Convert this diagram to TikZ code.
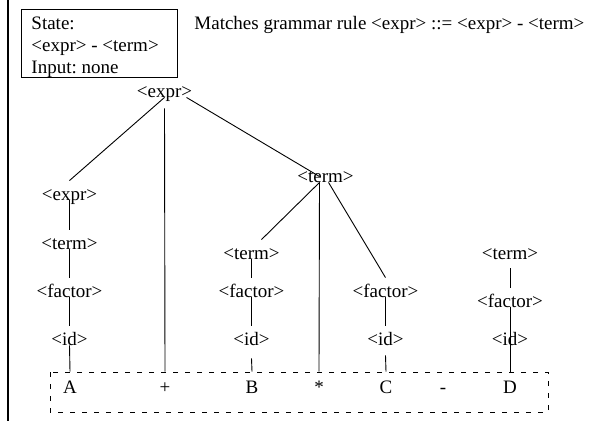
\documentclass[tikz,border=0pt]{standalone}
\usepackage{fontspec}
\setmainfont{Liberation Serif}
\frenchspacing

\begin{document}
\begin{tikzpicture}[x=1pt,y=-1pt,line width=0.9pt,
    font=\fontsize{19}{22}\selectfont,
    sym/.style={inner sep=0pt,text height=19pt,text depth=0pt,anchor=base},
    tok/.style={inner sep=0pt,text height=21pt,text depth=0pt,anchor=base}]
  \useasboundingbox (0,0) rectangle (597,421);
  % left rule
  \draw[line width=2pt] (8,0) -- (8,421);
  % state box + matched rule
  \node[draw,anchor=north west,minimum width=156pt,minimum height=68pt] (state) at (21,9) {};
  \node[anchor=north west,align=left,inner sep=0pt] (statetext) at (31,16.5)
        {State:\\<expr> - <term>\\Input: none};
  \node[anchor=base west,inner sep=0pt] (rule) at (194,29)
        {Matches grammar rule <expr> ::= <expr> - <term>};
  % parse tree
  \node[sym] (root) at (164.5,97) {<expr>};
  \node[sym] (e1) at (69.5,200) {<expr>};
  \node[sym] (t1) at (69.5,249) {<term>};
  \node[sym] (f1) at (69.5,297) {<factor>};
  \node[sym] (i1) at (69.5,345) {<id>};
  \node[sym] (tm) at (325.5,182) {<term>};
  \node[sym] (t2) at (251.5,259) {<term>};
  \node[sym] (f2) at (251.5,297) {<factor>};
  \node[sym] (i2) at (251.5,345) {<id>};
  \node[sym] (f3) at (385.5,297) {<factor>};
  \node[sym] (i3) at (385.5,345) {<id>};
  \node[sym] (t4) at (510,259) {<term>};
  \node[sym] (f4) at (510,307) {<factor>};
  \node[sym] (i4) at (510,345) {<id>};
  % input tokens
  \node[tok] (a) at (70,393) {A};
  \node[tok] (plus) at (165,393) {+};
  \node[tok] (b) at (252,393) {B};
  \node[tok] (star) at (319,393) {*};
  \node[tok] (c) at (386,393) {C};
  \node[tok] (minus) at (443,393) {-};
  \node[tok] (d) at (510,393) {D};
  \draw[dash pattern=on 5pt off 7pt,line width=0.8pt] (50,372) rectangle (548,412);
  % edges
  \draw (root.south) -- (e1.north);
  \draw ([yshift=-11pt]root.south) -- (plus.north);
  \draw ([xshift=22pt]root.south) -- ([xshift=-6pt,yshift=-14pt]tm.north);
  \draw (e1.south) -- (t1.north);
  \draw (t1.south) -- (f1.north);
  \draw (f1.south) -- (i1.north);
  \draw (i1.south) -- (a.north);
  \draw ([xshift=-6pt]tm.south) -- ([xshift=10pt]t2.north);
  \draw ([xshift=-6pt]tm.south) -- (star.north);
  \draw ([xshift=3pt]tm.south) -- (f3.north);
  \draw (t2.south) -- (f2.north);
  \draw (f2.south) -- (i2.north);
  \draw ([yshift=-13pt]i2.south) -- (b.north);
  \draw (f3.south) -- (i3.north);
  \draw ([yshift=-10pt]i3.south) -- (c.north);
  \draw ([yshift=-9pt]t4.south) -- (f4.north);
  \draw (f4.south) -- (d.north);
\end{tikzpicture}
\end{document}
